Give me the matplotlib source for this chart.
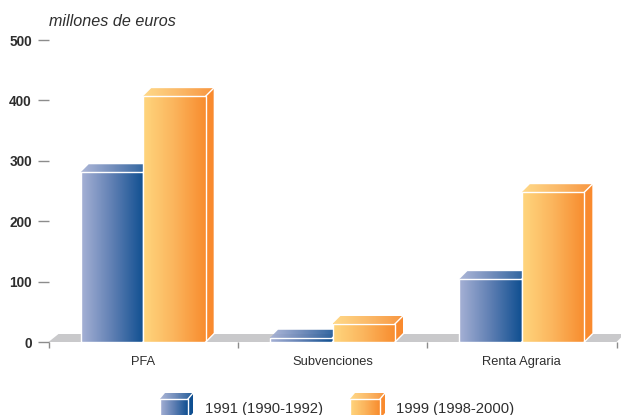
import numpy as np
import matplotlib
matplotlib.use("Agg")
import matplotlib.pyplot as plt
from matplotlib.colors import LinearSegmentedColormap
from matplotlib.patches import Polygon

categories = ["PFA", "Subvenciones", "Renta Agraria"]
series_names = ["1991 (1990-1992)", "1999 (1998-2000)"]
values_1991 = [281, 7, 104]
values_1999 = [407, 30, 248]
y_ticks = [0, 100, 200, 300, 400, 500]
unit_label = "millones de euros"

W, H = 621, 415
plt.rcParams["font.family"] = ["Liberation Sans", "DejaVu Sans"]
TXT = "#2e2e2e"
GREY = "#8c8c8c"

blue_cm = LinearSegmentedColormap.from_list("b", ["#a6b1d5", "#5f7fb3", "#0f4f91"])
orange_cm = LinearSegmentedColormap.from_list("o", ["#ffd67e", "#fbb45c", "#f88c2e"])
blue_side = "#0f4f91"
orange_side = "#f98a2e"

fig = plt.figure(figsize=(W / 100, H / 100), dpi=100)
L, R, T, B = 48.5, 616.5, 40, 342
ax = fig.add_axes([L / W, 1 - B / H, (R - L) / W, (B - T) / H])
ax.set_xlim(0, 3)
ax.set_ylim(0, 500)
for s in ax.spines.values():
    s.set_visible(False)
ax.patch.set_alpha(0)

px_x = 3 / (R - L)
px_y = 500 / (B - T)
DX, DY = 8 * px_x, 8 * px_y
grad = np.linspace(0, 1, 256).reshape(1, -1)


def box(a, x0, x1, y0, y1, cm, side, dx, dy, lw=1.0, z=3):
    a.imshow(grad, cmap=cm, extent=[x0, x1, y0, y1], aspect="auto",
             zorder=z, clip_on=True, interpolation="bilinear")
    top_pts = [(x0, y1), (x1, y1), (x1 + dx, y1 + dy), (x0 + dx, y1 + dy)]
    top = a.imshow(grad, cmap=cm, extent=[x0, x1 + dx, y1, y1 + dy], aspect="auto",
                   zorder=z, interpolation="bilinear", alpha=0.92)
    top.set_clip_path(Polygon(top_pts, transform=a.transData))
    a.add_patch(Polygon([(x1, y0), (x1 + dx, y0 + dy), (x1 + dx, y1 + dy), (x1, y1)],
                        closed=True, facecolor=side, edgecolor="none", zorder=z))
    a.plot([x0, x0, x1, x1, x0], [y0, y1, y1, y0, y0], color="white", lw=lw,
           zorder=z + 1, clip_on=False, solid_joinstyle="miter")
    a.plot([x1, x1 + dx], [y1, y1 + dy], color="white", lw=lw, zorder=z + 1, clip_on=False)
    a.plot([x1, x1 + dx], [y0, y0 + dy], color="white", lw=lw, zorder=z + 1, clip_on=False)


# floor
ax.add_patch(Polygon([(0, 0), (3, 0), (3 + DX, DY), (DX * 1.25, DY)], closed=True,
                     facecolor="#c9c9cb", edgecolor="none", zorder=1, clip_on=False))

bw = 62.5 * px_x
for i in range(len(categories)):
    c = i + 0.5
    box(ax, c - bw, c, 0, values_1991[i], blue_cm, blue_side, DX, DY)
    box(ax, c, c + bw, 0, values_1999[i], orange_cm, orange_side, DX, DY, z=5)
ax.set_xlim(0, 3)
ax.set_ylim(0, 500)

ax.set_yticks(y_ticks)
ax.set_yticklabels([str(v) for v in y_ticks], fontsize=9.8, fontweight="bold", color=TXT)
ax.tick_params(axis="y", length=8, width=1.0, color=GREY, pad=4)
ax.set_xticks([0, 1, 2, 3])
ax.set_xticklabels([])
ax.tick_params(axis="x", length=4.5, width=1.0, color=GREY)
for i, name in enumerate(categories):
    ax.annotate(name, xy=(i + 0.5, 0), xytext=(0, -14.3), textcoords="offset points",
                ha="center", va="center", fontsize=9.3, color=TXT, annotation_clip=False)

# overlay in pixel coordinates for title and legend
ov = fig.add_axes([0, 0, 1, 1])
ov.set_xlim(0, W)
ov.set_ylim(H, 0)
ov.axis("off")
ov.patch.set_alpha(0)
ov.text(49, 21, unit_label, fontsize=11.6, style="italic", color=TXT, ha="left", va="center")
box(ov, 160, 188, H + 5, 399, blue_cm, blue_side, 5, -6, z=3)
box(ov, 350, 380, H + 5, 399, orange_cm, orange_side, 5, -6, z=3)
ov.set_xlim(0, W)
ov.set_ylim(H, 0)
ov.text(205, 408.5, series_names[0], fontsize=10.6, color=TXT, ha="left", va="center")
ov.text(396, 408.5, series_names[1], fontsize=10.6, color=TXT, ha="left", va="center")

fig.savefig("out.png", dpi=100, facecolor="white")
